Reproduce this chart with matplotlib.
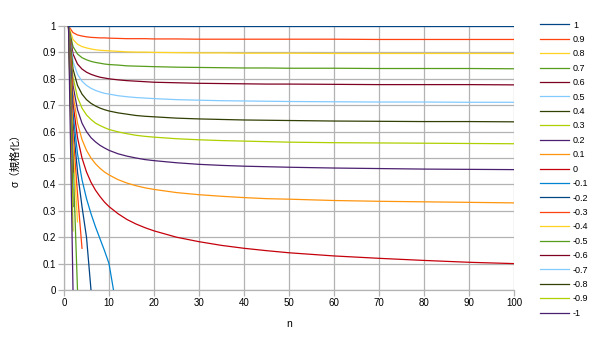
import matplotlib
matplotlib.use('Agg')
import matplotlib.pyplot as plt
import numpy as np

plt.rcParams['font.family'] = ['Liberation Sans', 'Noto Sans CJK JP', 'DejaVu Sans']

# correlation coefficients, one line each
rho_labels = ['1', '0.9', '0.8', '0.7', '0.6', '0.5', '0.4', '0.3', '0.2', '0.1', '0',
              '-0.1', '-0.2', '-0.3', '-0.4', '-0.5', '-0.6', '-0.7', '-0.8', '-0.9', '-1']

# n values for the non-negative correlations
n_pos = [1, 2, 3, 4, 5, 6, 7, 8, 9, 10, 12, 14, 16, 18, 20, 25, 30, 35, 40, 45, 50,
         60, 70, 80, 90, 100]

sigma_pos = {
    '1':   [1.0] * 26,
    '0.9': [1.0, 0.975, 0.966, 0.962, 0.959, 0.957, 0.956, 0.955, 0.955, 0.954, 0.953,
            0.952, 0.952, 0.952, 0.951, 0.951, 0.950, 0.950, 0.950, 0.950, 0.950,
            0.950, 0.949, 0.949, 0.949, 0.949],
    '0.8': [1.0, 0.949, 0.931, 0.922, 0.917, 0.913, 0.910, 0.908, 0.907, 0.906, 0.904,
            0.902, 0.901, 0.901, 0.900, 0.899, 0.898, 0.898, 0.897, 0.897, 0.897,
            0.896, 0.896, 0.896, 0.896, 0.896],
    '0.7': [1.0, 0.922, 0.894, 0.880, 0.872, 0.866, 0.862, 0.859, 0.856, 0.854, 0.852,
            0.849, 0.848, 0.847, 0.846, 0.844, 0.843, 0.842, 0.841, 0.841, 0.840,
            0.840, 0.839, 0.839, 0.839, 0.838],
    '0.6': [1.0, 0.894, 0.856, 0.837, 0.825, 0.817, 0.811, 0.806, 0.803, 0.800, 0.796,
            0.793, 0.791, 0.789, 0.787, 0.785, 0.783, 0.782, 0.781, 0.780, 0.780,
            0.779, 0.778, 0.778, 0.778, 0.777],
    '0.5': [1.0, 0.866, 0.817, 0.791, 0.775, 0.764, 0.756, 0.750, 0.745, 0.742, 0.736,
            0.732, 0.729, 0.727, 0.725, 0.721, 0.719, 0.717, 0.716, 0.715, 0.714,
            0.713, 0.712, 0.712, 0.711, 0.711],
    '0.4': [1.0, 0.837, 0.775, 0.742, 0.721, 0.707, 0.697, 0.689, 0.683, 0.678, 0.671,
            0.666, 0.661, 0.658, 0.656, 0.651, 0.648, 0.646, 0.644, 0.643, 0.642,
            0.640, 0.639, 0.638, 0.638, 0.637],
    '0.3': [1.0, 0.806, 0.730, 0.689, 0.663, 0.646, 0.632, 0.623, 0.615, 0.608, 0.599,
            0.592, 0.586, 0.582, 0.579, 0.573, 0.569, 0.566, 0.564, 0.562, 0.560,
            0.558, 0.557, 0.556, 0.555, 0.554],
    '0.2': [1.0, 0.775, 0.683, 0.632, 0.600, 0.577, 0.561, 0.548, 0.538, 0.529, 0.516,
            0.507, 0.500, 0.494, 0.490, 0.482, 0.476, 0.472, 0.469, 0.467, 0.465,
            0.462, 0.460, 0.458, 0.457, 0.456],
    '0.1': [1.0, 0.742, 0.632, 0.570, 0.529, 0.500, 0.478, 0.461, 0.447, 0.436, 0.418,
            0.405, 0.395, 0.387, 0.381, 0.369, 0.361, 0.355, 0.350, 0.346, 0.344,
            0.339, 0.336, 0.334, 0.332, 0.330],
    '0':   [1.0, 0.707, 0.577, 0.500, 0.447, 0.408, 0.378, 0.354, 0.333, 0.316, 0.289,
            0.267, 0.250, 0.236, 0.224, 0.200, 0.183, 0.169, 0.158, 0.149, 0.141,
            0.129, 0.120, 0.112, 0.105, 0.100],
}

# negative correlations stop where the variance would go below zero
sigma_neg = {
    '-0.1': [1.0, 0.671, 0.516, 0.418, 0.346, 0.289, 0.239, 0.194, 0.149, 0.100, 0.0],
    '-0.2': [1.0, 0.632, 0.447, 0.316, 0.200, 0.0],
    '-0.3': [1.0, 0.592, 0.365, 0.158],
    '-0.4': [1.0, 0.548, 0.258],
    '-0.5': [1.0, 0.500, 0.0],
    '-0.6': [1.0, 0.447],
    '-0.7': [1.0, 0.387],
    '-0.8': [1.0, 0.316],
    '-0.9': [1.0, 0.224],
    '-1':   [1.0, 0.0],
}

palette = ['#004586', '#ff420e', '#ffd320', '#579d1c', '#7e0021', '#83caff',
           '#314004', '#aecf00', '#4b1f6f', '#ff950e', '#c5000b', '#0084d1']

fig = plt.figure(figsize=(6.0, 3.38), dpi=100)
ax = fig.add_axes([64 / 600, 48 / 338, 450 / 600, 264 / 338])

for i, lab in enumerate(rho_labels):
    if lab in sigma_pos:
        y = sigma_pos[lab]
        x = n_pos[:len(y)]
    else:
        y = sigma_neg[lab]
        x = list(range(1, len(y) + 1))
    ax.plot(x, y, color=palette[i % len(palette)], lw=0.9, label=lab,
            zorder=3 if i else 4)

ax.set_xlim(0, 100)
ax.set_ylim(0, 1)
ax.set_xticks(np.arange(0, 101, 10))
ax.set_yticks(np.arange(0, 1.01, 0.1))
ax.set_yticklabels(['0', '0.1', '0.2', '0.3', '0.4', '0.5', '0.6', '0.7', '0.8', '0.9', '1'])
ax.grid(True, color='#b3b3b3', lw=0.9, zorder=0)
ax.set_axisbelow(True)
for side in ['top', 'right']:
    ax.spines[side].set_visible(False)
for side in ['left', 'bottom']:
    ax.spines[side].set_color('#b3b3b3')
    ax.spines[side].set_linewidth(0.9)
ax.tick_params(length=4, width=0.9, color='#b3b3b3', labelsize=7, pad=2)

ax.set_xlabel('n', fontsize=7.5, labelpad=8)
ax.set_ylabel('σ（規格化）', fontsize=7.5, labelpad=16)

ax.legend(loc='upper left', bbox_to_anchor=(535 / 600, 1 - 16 / 338),
          bbox_transform=fig.transFigure, frameon=False, fontsize=6.5,
          handlelength=3.3, handletextpad=0.4, labelspacing=0.6, borderpad=0)

fig.savefig('out.png', dpi=100)
